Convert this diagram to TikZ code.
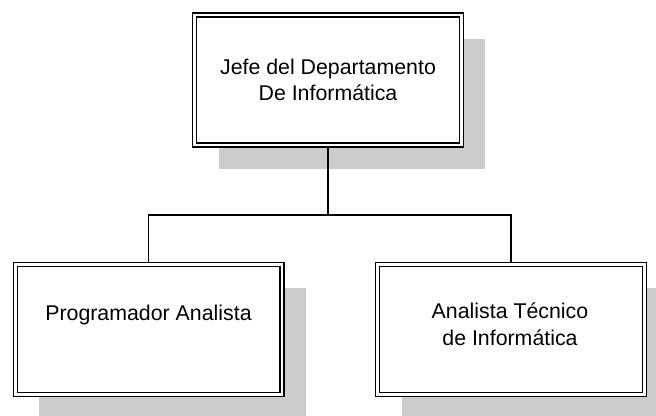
\documentclass[tikz,border=0pt]{standalone}
\usepackage{fontspec}
\setmainfont{Liberation Sans}
\usetikzlibrary{shadows}

\tikzset{
  orgbox/.style={draw, double, line width=1pt, double distance=2pt,
    fill=white, rectangle, minimum width=200pt, minimum height=97.5pt,
    outer sep=2pt,
    drop shadow={shadow xshift=18pt, shadow yshift=-18pt, fill=black!20, opacity=1}},
  orgtext/.style={align=center, inner sep=0.75pt, font=\fontsize{16}{20}\selectfont}
}

\begin{document}
\begin{tikzpicture}[x=0.75pt,y=0.75pt,yscale=-1,xscale=1,line width=1pt]
\useasboundingbox (0,0) rectangle (656,416);

%Shape: Rectangle [id:jefe] 
\node [orgbox] (jefe) at (328,80) {};
%Shape: Rectangle [id:prog] 
\node [orgbox] (prog) at (148.5,329.5) {};
%Shape: Rectangle [id:analista] 
\node [orgbox] (analista) at (511,329.5) {};

%Straight Lines [id:bar] 
\coordinate (bar) at (330,215);
\draw    (jefe.south) -- (jefe.south |- bar) ;
\draw    (prog.north) |- (bar) -| (analista.north) ;

% Text Node
\node [orgtext] (jefetxt) at (328,80) {Jefe del Departamento\\De Informática};
% Text Node
\node [orgtext] (progtxt) at (148.5,315) {Programador Analista};
% Text Node
\node [orgtext] (analistatxt) at (510,324) {Analista Técnico\\de Informática};

\end{tikzpicture}
\end{document}
